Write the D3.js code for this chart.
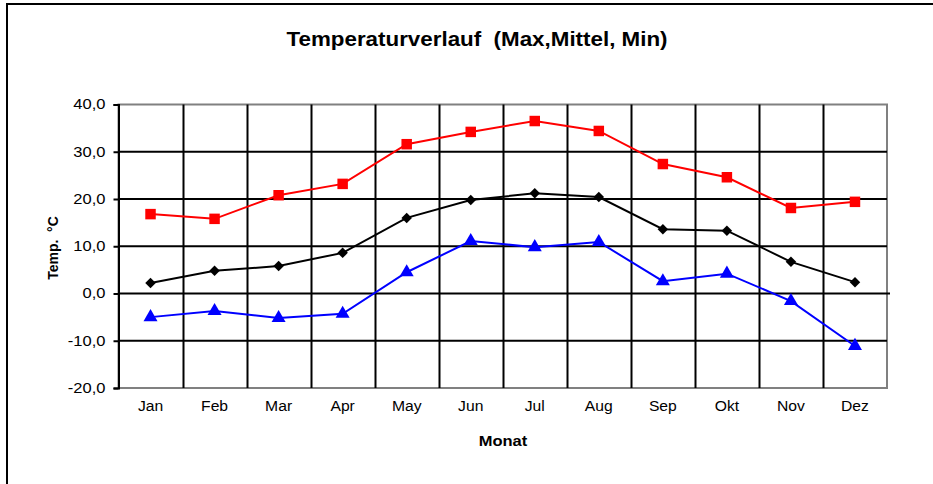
<!DOCTYPE html>
<html><head><meta charset="utf-8">
<script src="https://cdn.jsdelivr.net/npm/d3@7"></script>
<style>body{margin:0;background:#fff;}svg{display:block;font-family:Arial,"Liberation Sans",sans-serif;}text{white-space:pre;}</style>
</head><body>
<svg id="c" width="933" height="484"></svg>
<script>
const months = ["Jan","Feb","Mar","Apr","May","Jun","Jul","Aug","Sep","Okt","Nov","Dez"];
const maxTemp = [16.8,15.8,20.8,23.2,31.6,34.2,36.5,34.4,27.4,24.6,18.1,19.4];
const meanTemp = [2.2,4.8,5.8,8.6,16.0,19.8,21.2,20.4,13.6,13.3,6.7,2.4];
const minTemp = [-5.0,-3.7,-5.2,-4.3,4.5,11.1,9.8,10.9,2.6,4.2,-1.6,-11.1];
const yTicks = [-20,-10,0,10,20,30,40];
const title = "Temperaturverlauf  (Max,Mittel, Min)";
const yTitle = "Temp.  °C";
const xTitle = "Monat";

const svg = d3.select("#c");
const L = 118.5, R = 887, T = 104.5, B = 388;
const x = d3.scaleBand().domain(months).range([L, R]);
const y = d3.scaleLinear().domain([-20, 40]).range([B, T]);
const fmt = d => d.toFixed(1).replace(".", ",");
const stretch = (sel, k) => sel.each(function () {
  const w = this.getComputedTextLength();
  d3.select(this).attr("textLength", w * k).attr("lengthAdjust", "spacingAndGlyphs");
});

// outer frame
svg.append("rect").attr("x", 7).attr("y", 4).attr("width", 1000).attr("height", 1000)
  .attr("fill", "none").attr("stroke", "#000").attr("stroke-width", 2);

const tt = svg.append("text").attr("x", 477).attr("y", 46).attr("text-anchor", "middle")
  .attr("font-size", 20).attr("font-weight", "bold").text(title);
tt.attr("textLength", 381).attr("lengthAdjust", "spacingAndGlyphs");

// plot border (gray)
svg.append("rect").attr("x", L).attr("y", T).attr("width", R - L).attr("height", B - T)
  .attr("fill", "none").attr("stroke", "#808080").attr("stroke-width", 2);

// vertical grid at category boundaries
const bounds = months.map(m => x(m)).slice(1);
svg.append("g").selectAll("line").data(bounds).join("line")
  .attr("x1", d => Math.round(d) + 0.5).attr("x2", d => Math.round(d) + 0.5)
  .attr("y1", T).attr("y2", B).attr("stroke", "#000").attr("stroke-width", 2);

// y axis with horizontal grid
const yAxis = d3.axisLeft(y).tickValues(yTicks).tickFormat(fmt).tickSize(5).tickPadding(8);
const gy = svg.append("g").attr("transform", `translate(${L},0)`).call(yAxis);
gy.select(".domain").attr("stroke", "#000").attr("stroke-width", 2);
gy.selectAll(".tick line").attr("stroke-width", 2);
gy.selectAll(".tick text").attr("font-size", 14).attr("fill", "#000").attr("font-family", "Arial, 'Liberation Sans', sans-serif").call(stretch, 1.18);
svg.append("g").selectAll("line").data(yTicks.filter(v => v > -20 && v < 40)).join("line")
  .attr("x1", L).attr("x2", d => d === 0 ? R + 3 : R)
  .attr("y1", d => y(d)).attr("y2", d => y(d)).attr("stroke", "#000").attr("stroke-width", 2);

// x axis labels
const xAxis = d3.axisBottom(x).tickSize(0).tickPadding(13);
const gx = svg.append("g").attr("transform", `translate(0,${B})`).call(xAxis);
gx.select(".domain").remove();
gx.selectAll(".tick text").attr("font-size", 14).attr("fill", "#000").attr("font-family", "Arial, 'Liberation Sans', sans-serif").call(stretch, 1.12);

const xt = svg.append("text").attr("x", 503).attr("y", 446).attr("text-anchor", "middle")
  .attr("font-size", 15).attr("font-weight", "bold").text(xTitle);
xt.call(stretch, 1.1);
svg.append("text").attr("transform", "translate(58,248) rotate(-90)").attr("text-anchor", "middle")
  .attr("font-size", 14).attr("font-weight", "bold").text(yTitle);

const cx = m => x(m) + x.bandwidth() / 2;
const line = d3.line().x((d, i) => cx(months[i])).y(d => y(d));
const series = [
  {data: maxTemp, color: "#ff0000", sym: d3.symbolSquare, size: 110, rot: 0},
  {data: meanTemp, color: "#000000", sym: d3.symbolSquare, size: 55, rot: 45},
  {data: minTemp, color: "#0000ff", sym: d3.symbolTriangle, size: 85, rot: 0}
];
series.forEach(s => {
  svg.append("path").datum(s.data).attr("d", line).attr("fill", "none")
    .attr("stroke", s.color).attr("stroke-width", 2);
  svg.append("g").selectAll("path").data(s.data).join("path")
    .attr("transform", (d, i) => `translate(${cx(months[i])},${y(d)}) rotate(${s.rot})`)
    .attr("d", d3.symbol().type(s.sym).size(s.size)).attr("fill", s.color);
});
</script>
</body></html>
